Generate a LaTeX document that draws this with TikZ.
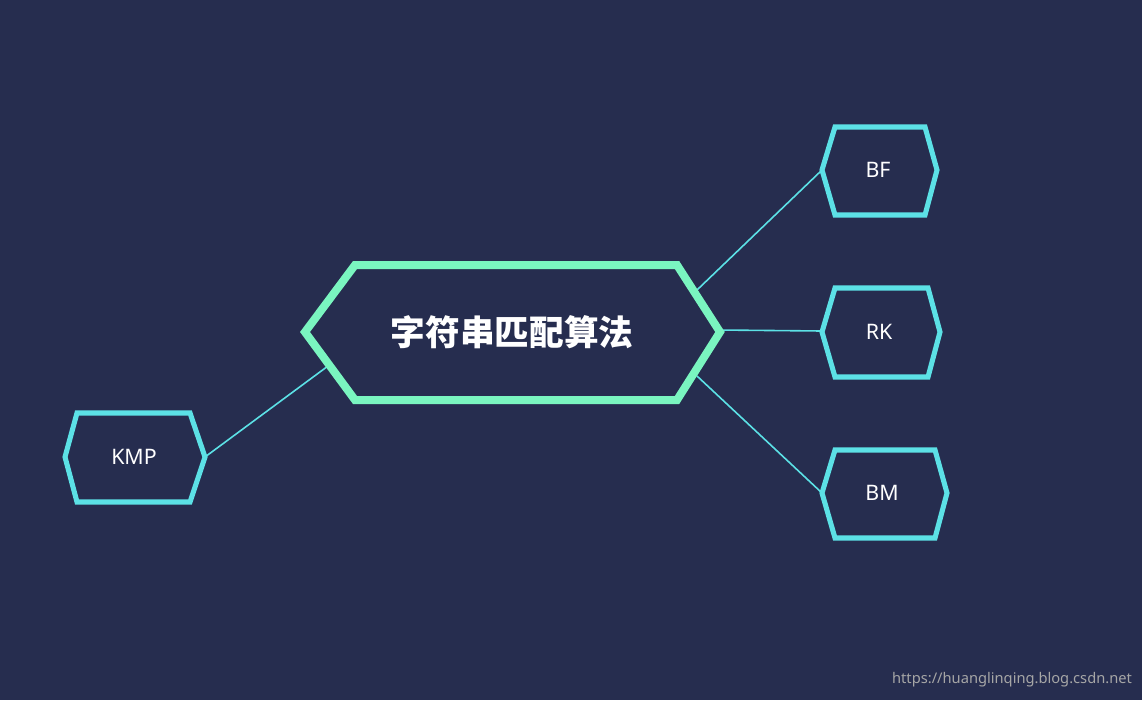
\documentclass[tikz,border=0pt]{standalone}
\usepackage{fontspec}
\setmainfont{Noto Sans}
\newfontfamily\cjk{Noto Sans CJK SC}
\definecolor{bg}{HTML}{262D4F}
\definecolor{mint}{HTML}{7AF5C0}
\definecolor{cyanb}{HTML}{5CE1E6}
\begin{document}
\begin{tikzpicture}[x=0.75pt,y=-0.75pt,
  conn/.style={cyanb,line width=1.2pt},
  leaf/.style={cyanb,line width=3.8pt,line join=miter},
  lbl/.style={white,font=\fontsize{16}{18}\selectfont}]
\fill[bg] (0,0) rectangle (1142,700);
\useasboundingbox (0,0) rectangle (1142,700);
% connectors
\coordinate (c1) at (697,290); \coordinate (c2) at (718,330);
\coordinate (c3) at (697,376); \coordinate (c4) at (328,366);
\coordinate (bf) at (822,170); \coordinate (rk) at (822,331);
\coordinate (bm) at (822,493); \coordinate (kmp) at (205,457);
\draw[conn] (c1) -- (bf);
\draw[conn] (c2) -- (rk);
\draw[conn] (c3) -- (bm);
\draw[conn] (c4) -- (kmp);
% central
\draw[mint,line width=6pt,fill=bg] (305,332)--(355,265)--(677,265)--(720,332)--(677,400)--(355,400)--cycle;
\node[white,font=\cjk\bfseries\fontsize{26}{30}\selectfont] (main) at (512,332) {字符串匹配算法};
% leaves
\draw[leaf] (822,170)--(835,127)--(925,127)--(937,170)--(925,215)--(835,215)--cycle;
\node[lbl] (tbf) at (878,170) {BF};
\draw[leaf] (822,332)--(835,288)--(928,288)--(940,332)--(928,377)--(835,377)--cycle;
\node[lbl] (trk) at (879,332) {RK};
\draw[leaf] (822,493)--(835,450)--(935,450)--(947,493)--(935,538)--(835,538)--cycle;
\node[lbl] (tbm) at (882,493) {BM};
\draw[leaf] (65,457)--(77,413)--(190,413)--(205,457)--(190,502)--(77,502)--cycle;
\node[lbl] (tkmp) at (134,457) {KMP};
\node[gray!70,font=\fontsize{11}{13}\selectfont] (wm) at (1012,680) {https://huanglinqing.blog.csdn.net};
\end{tikzpicture}
\end{document}
